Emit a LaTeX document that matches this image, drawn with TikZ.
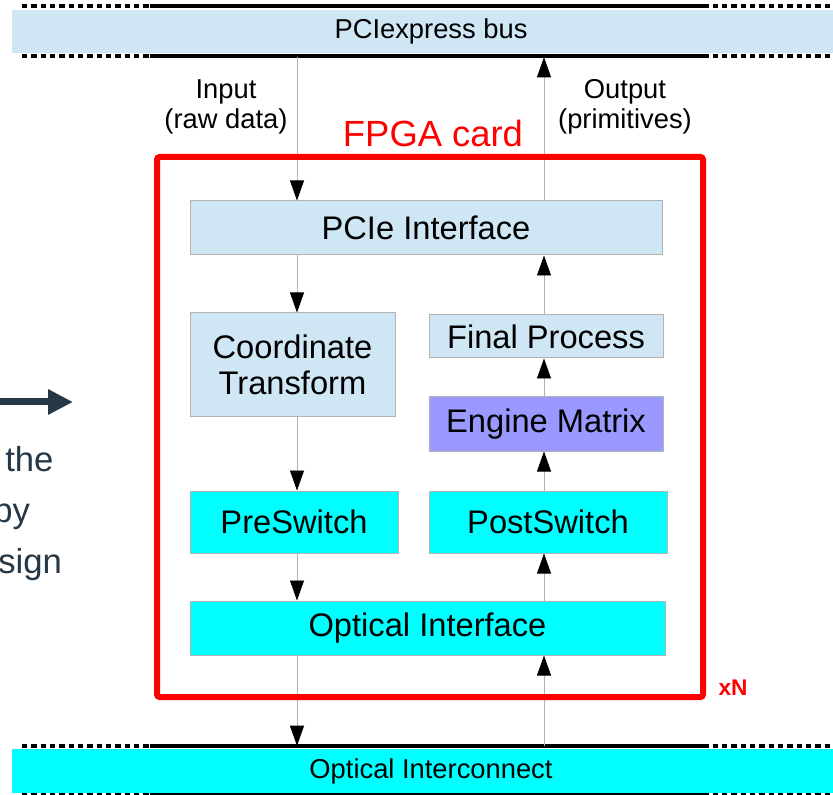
\documentclass[tikz,border=0pt]{standalone}
\usepackage{fontspec}
\setmainfont{Liberation Sans}
\usetikzlibrary{arrows.meta}
\definecolor{paleblue}{RGB}{207,231,245}
\definecolor{boxgray}{RGB}{179,179,179}
\definecolor{enginefill}{RGB}{153,153,255}
\definecolor{brightcyan}{RGB}{0,255,255}
\definecolor{slidedark}{RGB}{38,55,70}
\begin{document}
\begin{tikzpicture}[x=0.75pt,y=0.75pt,yscale=-1,xscale=1,
  blk/.style={draw=boxgray, line width=0.75pt, inner sep=0pt, align=center, font=\fontsize{24.5}{27}\selectfont},
  busbar/.style={inner sep=0pt, minimum width=628.5pt, minimum height=32.25pt, font=\fontsize{20.5}{22.5}\selectfont},
  flow/.style={draw=gray!60, line width=0.5pt, -{Triangle[length=15pt,width=10.5pt,color=black]}},
  busdots/.style={line width=3pt, dash pattern=on 4pt off 3pt},
  busline/.style={line width=3pt}]
\path[use as bounding box] (0,0) rectangle (833,795);
\clip (0,0) rectangle (833,795);

%Shape: left slide fragment
\coordinate (fragstart) at (-5,402);
\coordinate (fragtip) at (73,402);
\draw [slidedark, line width=5.25pt, -{Triangle[length=18.75pt,width=18pt]}] (fragstart) -- (fragtip);
\node [anchor=base west, inner sep=0pt, text=slidedark, font=\fontsize{26}{30}\selectfont] (fragthe) at (5,471) {the};
\node [anchor=base west, inner sep=0pt, text=slidedark, font=\fontsize{26}{30}\selectfont] (fragpy) at (-7,522) {py};
\node [anchor=base west, inner sep=0pt, text=slidedark, font=\fontsize{26}{30}\selectfont] (fragsign) at (-2,573) {sign};

%Shape: PCIexpress bus
\node [busbar, fill=paleblue] (bus) at (431,31.5) {PCIexpress bus};
\draw [busdots] (22,6) -- (850,6);
\draw [busline] (150,6) -- (707,6);
\draw [busdots] (22,56) -- (850,56);
\draw [busline] (150,56) -- (707,56);

%Shape: Optical Interconnect
\node [busbar, fill=brightcyan, minimum height=33pt] (oic) at (431,771) {Optical Interconnect};
\draw [busdots] (22,746) -- (850,746);
\draw [busline] (150,746) -- (707,746);
\draw [busdots] (22,795) -- (850,795);
\draw [busline] (150,795) -- (707,795);

%Shape: blocks of the card
\node [blk, fill=paleblue, minimum width=354pt, minimum height=40.5pt] (pcie) at (426,228) {PCIe Interface};
\node [blk, fill=paleblue, minimum width=153.75pt, minimum height=78pt] (coord) at (292.5,365) {Coordinate\\Transform};
\node [blk, fill=paleblue, minimum width=175.5pt, minimum height=32.25pt] (final) at (546,336.5) {Final Process};
\node [blk, fill=enginefill, minimum width=175.5pt, minimum height=40.5pt] (engine) at (546,424) {Engine Matrix};
\node [blk, fill=brightcyan, minimum width=156pt, minimum height=46.5pt] (pre) at (294,522) {PreSwitch};
\node [blk, fill=brightcyan, minimum width=178.5pt, minimum height=46.5pt] (post) at (548,522) {PostSwitch};
\node [blk, fill=brightcyan, minimum width=356.25pt, minimum height=40.5pt] (optical) at (427.5,628) {Optical Interface};

%Straight Lines: data in
\coordinate (inx) at (297,0);
\coordinate (outx) at (544,0);
\draw [flow, shorten <=3pt] (bus.south -| inx) -- (pcie.north -| inx);
\draw [flow] (pcie.south -| inx) -- (coord.north -| inx);
\draw [flow] (coord.south -| inx) -- (pre.north -| inx);
\draw [flow] (pre.south -| inx) -- (optical.north -| inx);
\draw [flow, shorten >=2.25pt] (optical.south -| inx) -- (oic.north -| inx);

%Straight Lines: data out
\draw [flow, shorten <=2.25pt] (oic.north -| outx) -- (optical.south -| outx);
\draw [flow] (optical.north -| outx) -- (post.south -| outx);
\draw [flow] (post.north -| outx) -- (engine.south -| outx);
\draw [flow] (engine.north -| outx) -- (final.south -| outx);
\draw [flow] (final.north -| outx) -- (pcie.south -| outx);
\draw [flow, shorten >=3pt] (pcie.north -| outx) -- (bus.south -| outx);

%Shape: FPGA card
\node [draw=red, line width=4.5pt, rounded corners=2pt, minimum width=409.5pt, minimum height=405pt] (card) at (430,427) {};

% Text Node
\node [align=center, font=\fontsize{20.5}{22.5}\selectfont] (inlbl) at (226,107) {Input\\(raw data)};
% Text Node
\node [align=center, font=\fontsize{20.5}{22.5}\selectfont] (outlbl) at (625,107) {Output\\(primitives)};
% Text Node
\node [text=red, font=\fontsize{27.3}{30}\selectfont] (cardlbl) at (433,133) {FPGA card};
% Text Node
\node [text=red, font=\bfseries\fontsize{17}{20}\selectfont] (xn) at (733,688) {xN};

\end{tikzpicture}
\end{document}
